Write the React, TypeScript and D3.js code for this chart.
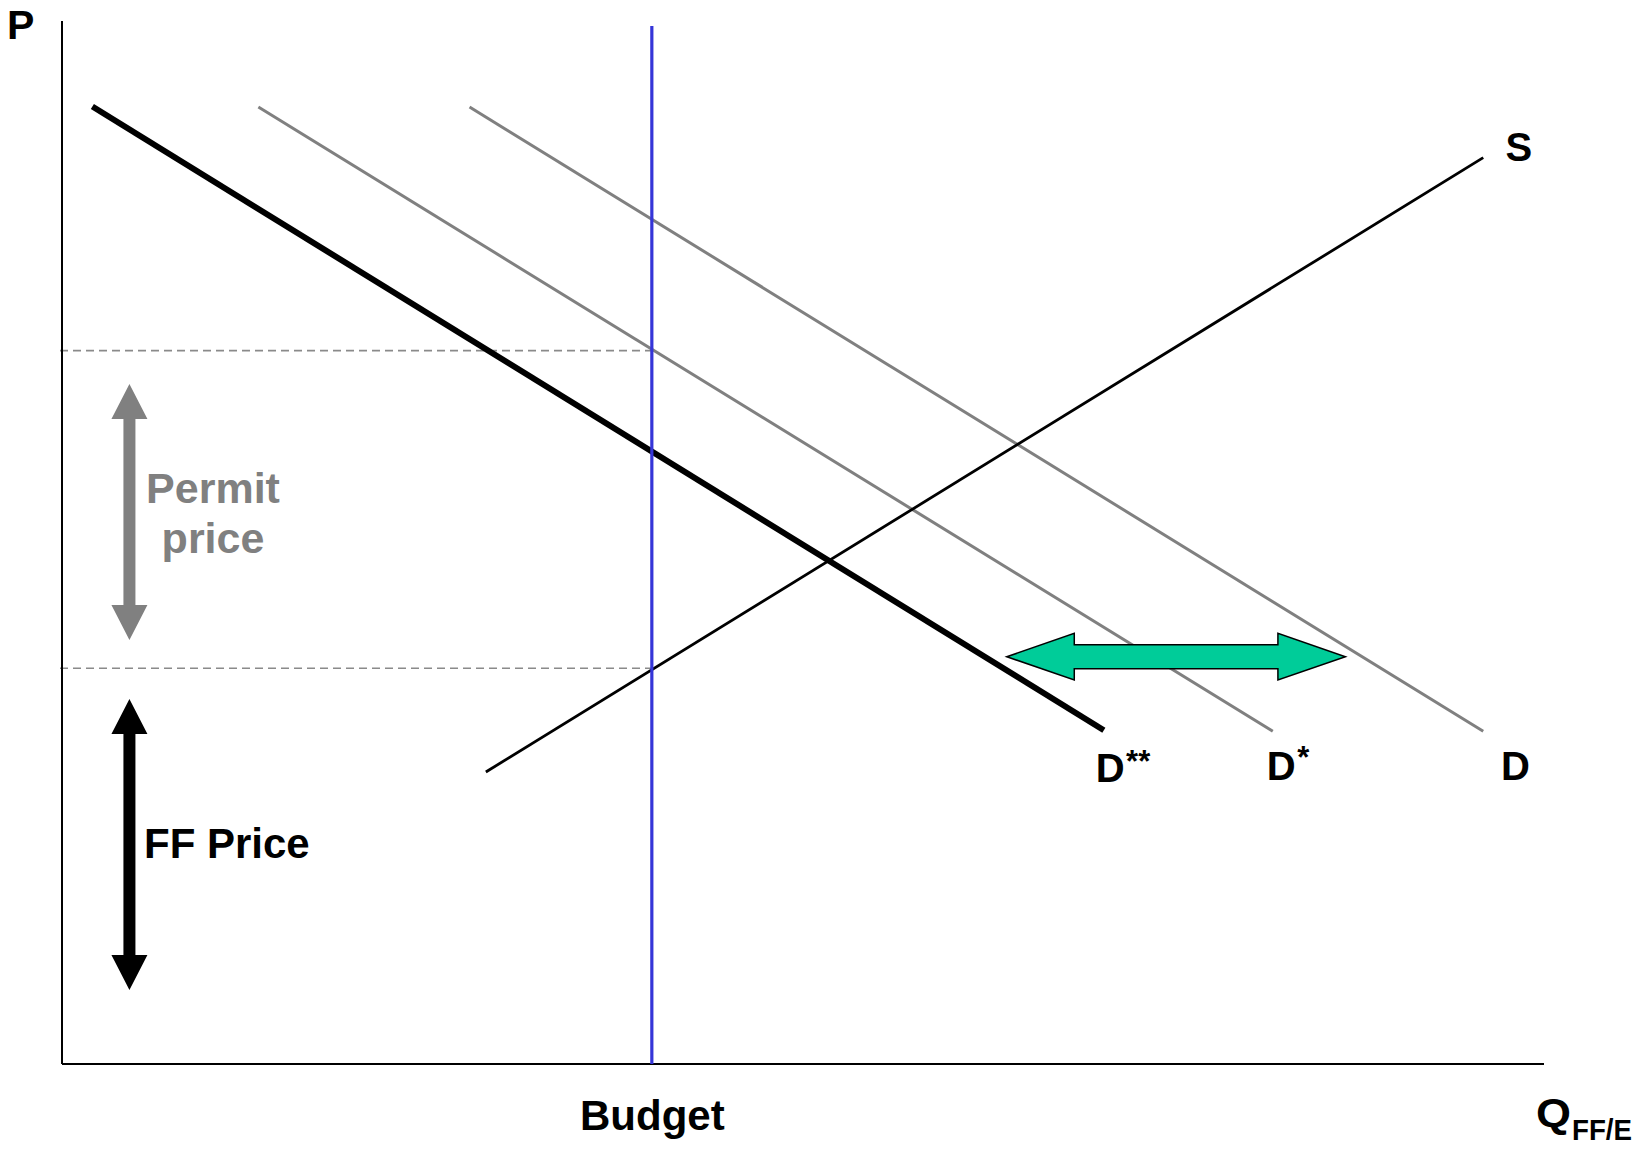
import React from "react";
import * as d3 from "d3";

// ---- Data (in economic units: quantity 0-100, price 0-100) ----
const curveNames = ["D**", "D*", "D", "S"];
const curveQStart = [2.05, 13.25, 27.5, 28.6];
const curvePStart = [91.8, 91.75, 91.75, 28.0];
const curveQEnd = [70.3, 81.7, 95.9, 95.9];
const curvePEnd = [32.0, 31.9, 31.9, 86.9];
const curveColors = ["#000000", "#808080", "#808080", "#000000"];
const curveWidths = [6, 3, 3, 2.8];

const budgetQ = 39.8;
const priceLevels = [68.4, 37.95]; // dashed reference prices

// label anchors for curves (data coords)
const labelQ = [69.75, 81.3, 97.1, 97.4];
const labelP = [27.0, 27.25, 27.25, 86.55];
const labelBase = ["D", "D", "D", "S"];
const labelSup = ["**", "*", "", ""];

// vertical double arrows: permit price and FF price
const vArrowNames = ["Permit price", "FF Price"];
const vArrowQ = [4.55, 4.55];
const vArrowPTop = [65.2, 35.0];
const vArrowPBottom = [40.65, 7.1];
const vArrowColors = ["#808080", "#000000"];

// horizontal green double arrow
const hArrowP = 39.05;
const hArrowQLeft = 63.75;
const hArrowQRight = 86.6;

const W = 1649;
const H = 1150;

const x = d3.scaleLinear().domain([0, 100]).range([62, 1544]);
const y = d3.scaleLinear().domain([0, 100]).range([1064, 21]);

const FONT = "'Liberation Sans', Arial, Helvetica, sans-serif";

function vArrowPath(cx: number, yTop: number, yBot: number, headLen: number, headHalf: number, shaftHalf: number) {
  const p = d3.path();
  p.moveTo(cx, yTop);
  p.lineTo(cx + headHalf, yTop + headLen);
  p.lineTo(cx + shaftHalf, yTop + headLen);
  p.lineTo(cx + shaftHalf, yBot - headLen);
  p.lineTo(cx + headHalf, yBot - headLen);
  p.lineTo(cx, yBot);
  p.lineTo(cx - headHalf, yBot - headLen);
  p.lineTo(cx - shaftHalf, yBot - headLen);
  p.lineTo(cx - shaftHalf, yTop + headLen);
  p.lineTo(cx - headHalf, yTop + headLen);
  p.closePath();
  return p.toString();
}

function hArrowPath(cy: number, xL: number, xR: number, headLen: number, headHalf: number, shaftHalf: number) {
  const p = d3.path();
  p.moveTo(xL, cy);
  p.lineTo(xL + headLen, cy - headHalf);
  p.lineTo(xL + headLen, cy - shaftHalf);
  p.lineTo(xR - headLen, cy - shaftHalf);
  p.lineTo(xR - headLen, cy - headHalf);
  p.lineTo(xR, cy);
  p.lineTo(xR - headLen, cy + headHalf);
  p.lineTo(xR - headLen, cy + shaftHalf);
  p.lineTo(xL + headLen, cy + shaftHalf);
  p.lineTo(xL + headLen, cy + headHalf);
  p.closePath();
  return p.toString();
}

export default function App() {
  const line = d3
    .line<[number, number]>()
    .x((d) => x(d[0]))
    .y((d) => y(d[1]));

  return (
    <svg
      width={W}
      height={H}
      viewBox={`0 0 ${W} ${H}`}
      style={{ position: "absolute", left: 0, top: 0, background: "#fff" }}
      fontFamily={FONT}
    >
      <rect x={0} y={0} width={W} height={H} fill="#ffffff" />

      {/* dashed price reference lines */}
      {priceLevels.map((p, i) => (
        <line
          key={"dash" + i}
          x1={x(0) - 2}
          x2={x(budgetQ)}
          y1={y(p)}
          y2={y(p)}
          stroke="#8a8a8a"
          strokeWidth={1.6}
          strokeDasharray="8,5"
        />
      ))}

      {/* axes */}
      <line x1={x(0)} x2={x(0)} y1={y(100)} y2={y(0)} stroke="#000" strokeWidth={2} />
      <line x1={x(0)} x2={x(100)} y1={y(0)} y2={y(0)} stroke="#000" strokeWidth={2} />

      {/* curves */}
      {curveNames.map((n, i) => (
        <path
          key={n}
          d={line([
            [curveQStart[i], curvePStart[i]],
            [curveQEnd[i], curvePEnd[i]],
          ]) as string}
          stroke={curveColors[i]}
          strokeWidth={curveWidths[i]}
          fill="none"
        />
      ))}

      {/* budget line */}
      <line x1={x(budgetQ)} x2={x(budgetQ)} y1={26} y2={y(0)} stroke="#3535d8" strokeWidth={3.2} />

      {/* green arrow */}
      <path
        d={hArrowPath(y(hArrowP), x(hArrowQLeft), x(hArrowQRight), 67.5, 23.3, 12)}
        fill="#00cc99"
        stroke="#000"
        strokeWidth={1.5}
        strokeLinejoin="miter"
      />

      {/* vertical arrows */}
      {vArrowNames.map((n, i) => (
        <path
          key={n}
          d={vArrowPath(x(vArrowQ[i]), y(vArrowPTop[i]), y(vArrowPBottom[i]), 35, 18, 6)}
          fill={vArrowColors[i]}
        />
      ))}

      {/* curve labels */}
      {curveNames.map((n, i) => (
        <text key={"lbl" + n} x={x(labelQ[i])} y={y(labelP[i])} fontSize={40} fontWeight="bold" fill="#000">
          {labelBase[i]}
          {labelSup[i] ? (
            <tspan fontSize={31} dx={1.5} dy={i === 0 ? -10 : -12}>
              {labelSup[i]}
            </tspan>
          ) : null}
        </text>
      ))}

      {/* arrow labels */}
      <text x={213} y={502.7} fontSize={43} fontWeight="bold" fill="#808080" textAnchor="middle">
        Permit
      </text>
      <text x={213} y={552.7} fontSize={43} fontWeight="bold" fill="#808080" textAnchor="middle">
        price
      </text>
      <text x={144} y={858} fontSize={42} fontWeight="bold" fill="#000">
        FF Price
      </text>

      {/* axis labels */}
      <text x={7} y={39} fontSize={41} fontWeight="bold" fill="#000">
        P
      </text>
      <text x={x(budgetQ) + 0.5} y={1130} fontSize={42} fontWeight="bold" fill="#000" textAnchor="middle">
        Budget
      </text>
      <text x={1536} y={1127} fontSize={40} fontWeight="bold" fill="#000" textLength={35} lengthAdjust="spacingAndGlyphs">
        Q
      </text>
      <text x={1572} y={1140} fontSize={30} fontWeight="bold" fill="#000" textLength={60} lengthAdjust="spacingAndGlyphs">
        FF/E
      </text>
    </svg>
  );
}
